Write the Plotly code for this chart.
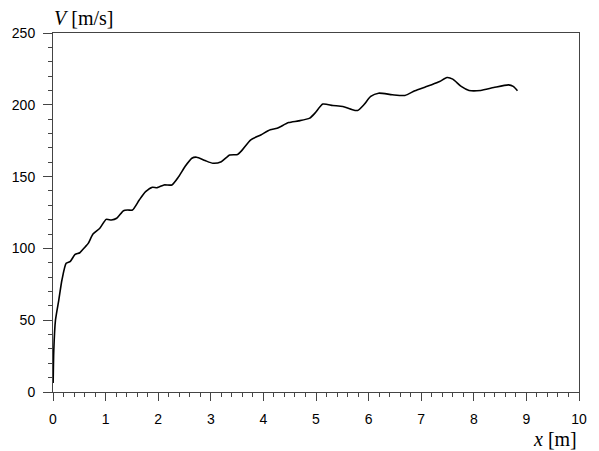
import plotly.graph_objects as go

# Velocity profile along the distance
x_m = [0.003, 0.015, 0.047, 0.11, 0.17, 0.25, 0.33, 0.42, 0.51, 0.61, 0.67, 0.76,
       0.89, 1.01, 1.11, 1.21, 1.34, 1.42, 1.51, 1.64, 1.76, 1.89, 1.98, 2.11, 2.26,
       2.39, 2.51, 2.64, 2.73, 2.89, 3.04, 3.2, 3.36, 3.51, 3.6, 3.76, 3.95, 4.13,
       4.26, 4.48, 4.67, 4.88, 4.98, 5.13, 5.32, 5.51, 5.66, 5.79, 5.91, 6.04, 6.19,
       6.45, 6.69, 6.88, 7.07, 7.2, 7.35, 7.49, 7.6, 7.76, 7.91, 8.13, 8.38, 8.66,
       8.75, 8.83]
v_ms = [6.3, 29, 50, 64, 78, 89.6, 91, 95.8, 97, 101, 103.5, 110,
        114, 120.2, 119.8, 121, 126.2, 126.7, 126.7, 133.7, 139.5, 142.6, 142.3, 144.2, 144.2,
        150, 157, 162.8, 163.5, 161.2, 159.3, 160.4, 165, 165.4, 168.6, 175.6, 179, 182.6,
        183.7, 187.6, 188.8, 190.7, 194.2, 200.5, 199.5, 198.8, 197, 196, 200, 205.8, 208.1,
        207, 206.5, 209.8, 212.3, 214, 216.2, 219, 217.9, 212.8, 210, 210, 212, 213.9,
        212.8, 209.8]

fig = go.Figure(go.Scatter(
    x=x_m, y=v_ms, mode="lines",
    line=dict(color="black", width=1.6, shape="spline", smoothing=0.6),
    showlegend=False,
))

axis_common = dict(
    showgrid=False, zeroline=False,
    showline=True, linecolor="#444", linewidth=1, mirror=True,
    ticks="outside", tickcolor="#444", tickwidth=1,
    tickmode="linear", tick0=0,
    tickfont=dict(family="Liberation Sans, Arial", size=14, color="black"),
)

fig.update_xaxes(
    range=[0, 10], dtick=1, ticklen=8, ticklabelstandoff=6,
    minor=dict(dtick=0.2, tick0=0, ticks="outside", ticklen=4, tickcolor="#444", showgrid=False),
    **axis_common,
)
fig.update_yaxes(
    range=[0, 250], dtick=50, ticklen=9, ticklabelstandoff=5,
    minor=dict(dtick=10, tick0=0, ticks="outside", ticklen=4, tickcolor="#444", showgrid=False),
    **axis_common,
)

title_font = dict(family="Liberation Serif, Times New Roman", size=20, color="black")
fig.add_annotation(text="<i>V</i> [m/s]", xref="paper", yref="paper",
                   x=0.0, y=1.0, xanchor="left", yanchor="bottom", xshift=-1, yshift=2,
                   showarrow=False, font=title_font)
fig.add_annotation(text="<i>x</i> [m]", xref="paper", yref="paper",
                   x=0.955, y=0.0, xanchor="center", yanchor="top", yshift=-34,
                   showarrow=False, font=title_font)

fig.update_layout(
    width=599, height=451,
    margin=dict(l=53, r=13, t=33, b=59),
    paper_bgcolor="white", plot_bgcolor="white",
)

fig.write_html("out.html")
